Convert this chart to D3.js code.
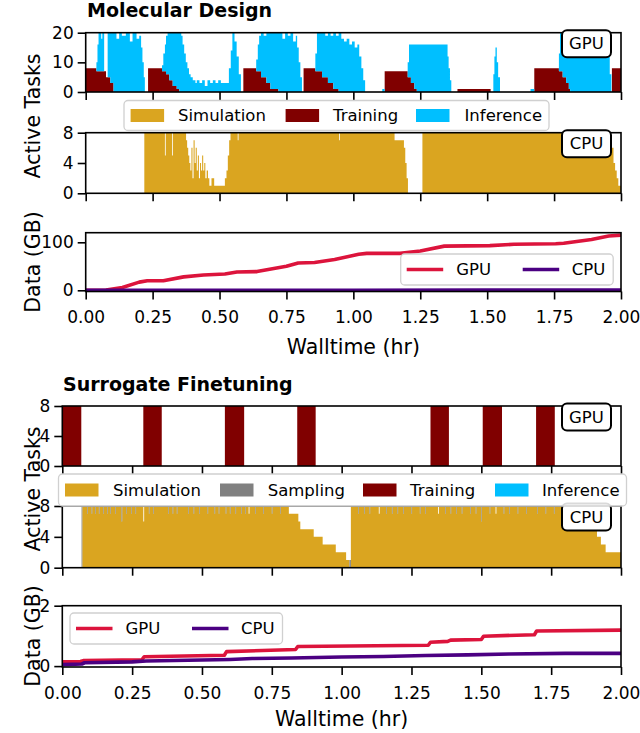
<!DOCTYPE html>
<html><head><meta charset="utf-8">
<script src="https://cdn.jsdelivr.net/npm/d3@7"></script>
<style>
body{margin:0;background:#fff}
svg{display:block;font-family:"DejaVu Sans",sans-serif}
</style>
</head><body><svg id="c" width="640" height="733"></svg>
<script>
// ---------------- DATA ----------------
const xTicks = [0, 0.25, 0.5, 0.75, 1.0, 1.25, 1.5, 1.75, 2.0];
const gpuTicksMol = [0, 10, 20];
const cpuTicks = [0, 4, 8];
const gpuTicksSur = [0, 4, 8];
const dataTicksMol = [0, 100];
const dataTicksSur = [0, 2];

const tasksMol = ["Simulation", "Training", "Inference"];
const tasksSur = ["Simulation", "Sampling", "Training", "Inference"];
const dataSeries = ["GPU", "CPU"];

// Molecular Design - GPU (step series: [hour, active tasks])
const molTraining = [[0,8],[0.040,7],[0.076,5],[0.092,3],[0.104,0],
  [0.233,8],[0.285,7],[0.300,6],[0.312,4],[0.325,2],[0.340,1],[0.350,0],
  [0.589,8],[0.637,7],[0.655,5],[0.675,3],[0.690,1],[0.720,0],
  [0.814,8],[0.858,7],[0.883,5],[0.905,3],[0.925,1],[0.945,0],
  [1.117,7],[1.203,5],[1.215,3],[1.228,1],[1.237,0],
  [1.389,1],[1.513,0],
  [1.676,8],[1.768,7],[1.782,5],[1.795,3],[1.805,1],[1.810,0],
  [1.966,8]];
const molInference = [[0.040,3],[0.044,9],[0.048,13],[0.058,11],[0.062,13],[0.069,0],[0.082,15],[0.092,17],[0.104,20],[0.115,18],[0.125,20],[0.135,19],[0.150,20],[0.165,17],[0.175,20],[0.190,18],[0.200,19],[0.207,15],[0.212,10],[0.217,5],[0.221,0],
  [0.285,2],[0.290,6],[0.296,9],[0.300,13],[0.306,14],[0.312,16],[0.325,18],[0.340,19],[0.350,20],[0.357,19],[0.362,16],[0.368,13],[0.374,10],[0.380,8],[0.386,6],[0.392,5],[0.400,4],[0.410,3],[0.415,4],[0.425,3],[0.435,4],[0.445,2],[0.455,4],[0.465,3],[0.475,4],[0.485,3],[0.495,4],[0.505,3],[0.520,3],[0.535,8],[0.542,14],[0.548,20],[0.556,17],[0.564,12],[0.572,6],[0.580,0],
  [0.637,4],[0.643,9],[0.648,12],[0.655,15],[0.665,14],[0.675,17],[0.690,19],[0.700,20],[0.710,19],[0.720,20],[0.735,18],[0.745,20],[0.755,19],[0.765,20],[0.775,17],[0.785,19],[0.790,15],[0.796,10],[0.802,5],[0.808,0],
  [0.858,6],[0.864,13],[0.883,15],[0.895,14],[0.905,17],[0.915,16],[0.925,19],[0.935,18],[0.945,20],[0.955,18],[0.965,17],[0.975,18],[0.985,16],[0.995,17],[1.005,15],[1.015,16],[1.022,12],[1.030,8],[1.037,4],[1.044,0],
  [1.108,1],[1.117,0],
  [1.203,5],[1.208,11],[1.215,13],[1.228,15],[1.237,16],[1.352,12],[1.356,8],[1.361,4],[1.366,0],
  [1.523,6],[1.527,12],[1.531,15],[1.536,10],[1.541,5],[1.548,0],
  [1.662,1],[1.676,0],
  [1.768,6],[1.772,13],[1.782,15],[1.795,17],[1.805,19],[1.810,20],[1.830,19],[1.850,20],[1.870,18],[1.890,19],[1.910,20],[1.930,18],[1.945,17],[1.952,12],[1.958,6],[1.964,0]];
// Molecular Design - CPU
const molSimulation = [[0,0],[0.219,8],[0.296,5],[0.299,8],[0.323,5],[0.326,8],
  [0.375,7],[0.379,6],[0.383,5],[0.387,4],[0.391,3],[0.395,6],[0.399,2],[0.403,7],[0.407,4],[0.411,6],[0.415,3],[0.419,5],[0.423,2],[0.427,4],[0.431,3],[0.435,5],[0.439,3],[0.443,4],[0.447,2],[0.452,3],[0.457,2],[0.462,1],[0.470,2],[0.480,1],[0.520,2],[0.526,3],[0.531,5],[0.536,7],[0.541,8],
  [0.568,7],[0.571,8],[0.947,7],[0.950,8],
  [1.154,7],[1.189,6],[1.194,4],[1.199,2],[1.204,0],[1.258,8],
  [1.961,7],[1.966,6],[1.972,4],[1.978,3],[1.984,2],[1.990,1]];
// Molecular Design - data transferred (GB)
const molDataGPU = [[0,0],[0.076,0.5],[0.137,6],[0.200,17],[0.230,20],[0.290,20],[0.366,28],[0.440,32],[0.520,34],[0.565,38],[0.640,39],[0.750,50],[0.794,57],[0.855,58],[0.930,64],[1.020,75],[1.050,77],[1.175,77],[1.250,82],[1.340,92],[1.510,93],[1.600,96],[1.756,97],[1.786,98],[1.890,106],[1.954,113],[2.0,115]];
const molDataCPU = [[0,0],[0.5,0.1],[1.0,0.2],[1.5,0.3],[2.0,0.4]];

// Surrogate Finetuning - GPU
const surTraining = [[0,8],[0.068,0],[0.290,8],[0.356,0],[0.582,8],[0.651,0],[0.841,8],[0.907,0],[1.318,8],[1.384,0],[1.505,8],[1.574,0],[1.696,8],[1.763,0]];
const surInference = [];
// Surrogate Finetuning - CPU (simulation slots, sampling intervals [start, end, tasks])
const surSimulation = [[0,0],[0.0716,8],[0.290,6],[0.293,8],[0.667,7],[0.670,8],[0.811,7],[0.845,6],[0.852,5],[0.900,4],[0.932,3],[0.979,2],[1.016,1],[1.030,0],[1.033,8],[1.133,7],[1.136,8],[1.345,7],[1.348,8],[1.551,7],[1.554,8],[1.914,4],[1.928,3],[1.945,2]];
const surSampling = [[0.069,0.0716,8],
  [0.090,0.092,1],[0.105,0.107,1],[0.118,0.120,1],[0.131,0.133,1],[0.146,0.148,1],[0.160,0.162,1],[0.172,0.174,1],[0.190,0.192,1],[0.212,0.2145,2],[0.228,0.230,1],[0.247,0.249,1],[0.262,0.264,1],[0.310,0.312,1],[0.325,0.327,1],[0.380,0.382,1],[0.395,0.397,1],[0.410,0.412,1],[0.450,0.452,1],[0.470,0.472,1],[0.490,0.492,1],[0.520,0.522,1],[0.545,0.547,1],[0.560,0.562,1],[0.585,0.587,1],[0.600,0.602,1],[0.620,0.622,1],[0.640,0.642,1],[0.655,0.657,1],[0.690,0.692,1],[0.720,0.722,1],[0.750,0.752,1],[0.780,0.782,1],
  [1.028,1.033,1],
  [1.060,1.062,1],[1.080,1.082,1],[1.100,1.102,1],[1.160,1.162,1],[1.180,1.182,1],[1.200,1.202,1],[1.220,1.222,1],[1.250,1.252,1],[1.280,1.282,1],[1.300,1.302,1],[1.370,1.372,1],[1.390,1.392,1],[1.410,1.412,1],[1.430,1.432,1],[1.460,1.462,1],[1.480,1.482,1],[1.500,1.502,2],[1.530,1.532,1],[1.580,1.582,1],[1.600,1.602,1],[1.630,1.632,1],[1.660,1.662,1],[1.700,1.702,1],[1.730,1.732,1],[1.760,1.762,1],[1.800,1.802,1],[1.840,1.842,1],[1.870,1.872,1]];
// Surrogate Finetuning - data transferred (GB)
const surDataGPU = [[0,0.14],[0.065,0.15],[0.075,0.18],[0.285,0.21],[0.293,0.31],[0.580,0.36],[0.588,0.48],[0.835,0.55],[0.843,0.65],[1.310,0.69],[1.318,0.79],[1.380,0.82],[1.390,0.86],[1.500,0.88],[1.508,0.99],[1.690,1.04],[1.698,1.16],[2.0,1.19]];
const surDataCPU = [[0,0.05],[0.070,0.07],[0.080,0.11],[0.250,0.14],[0.300,0.17],[0.500,0.20],[0.600,0.22],[0.680,0.25],[0.820,0.27],[1.000,0.30],[1.150,0.32],[1.300,0.35],[1.450,0.37],[1.600,0.40],[1.800,0.42],[2.0,0.42]];

// ---------------- STYLE ----------------
const colors = {Simulation:"#DAA520", Sampling:"#808080", Training:"#800000", Inference:"#00BFFF", GPU:"#DC143C", CPU:"#4B0082"};
const FS_TICK = 17, FS_LEG = 16.5, FS_LABEL = 20.5, FS_TITLE = 19;

const svg = d3.select("#c");
let clipId = 0;

function stepAt(s, t){ let v = 0; for (const [tt, vv] of s){ if (tt <= t + 1e-9) v = vv; else break; } return v; }
function intervalsAt(iv, t){ let v = 0; for (const [a, b, n] of iv) if (t >= a - 1e-9 && t < b - 1e-9) v += n; return v; }

function makePanel(o){
  const x = d3.scaleLinear().domain([0, 2]).range([o.left, o.right]);
  const y = d3.scaleLinear().domain(o.yDomain).range([o.bottom, o.top]);
  const g = svg.append("g");
  const id = "clip" + (clipId++);
  svg.append("clipPath").attr("id", id).append("rect")
    .attr("x", o.left).attr("y", o.top).attr("width", o.right - o.left).attr("height", o.bottom - o.top);
  const content = g.append("g").attr("clip-path", `url(#${id})`);
  return {x, y, g, content, o};
}
function finishPanel(p, yTicks, showX){
  const o = p.o;
  const xa = d3.axisBottom(p.x).tickValues(xTicks).tickSize(8).tickPadding(11.5)
    .tickFormat(showX ? d3.format(".2f") : () => "");
  const gx = p.g.append("g").attr("transform", `translate(0,${o.bottom})`).call(xa);
  const ya = d3.axisLeft(p.y).tickValues(yTicks).tickSize(8).tickPadding(4).tickFormat(d3.format("d"));
  const gy = p.g.append("g").attr("transform", `translate(${o.left},0)`).call(ya);
  [gx, gy].forEach(a => {
    a.select(".domain").remove();
    a.selectAll("line").attr("stroke", "#000").attr("stroke-width", 1.6);
    a.selectAll("text").attr("fill", "#000").style("font-size", FS_TICK + "px").style("font-family", "DejaVu Sans");
  });
  p.g.append("rect").attr("x", o.left).attr("y", o.top).attr("width", o.right - o.left).attr("height", o.bottom - o.top)
    .attr("fill", "none").attr("stroke", "#000").attr("stroke-width", 1.6);
}
function drawStack(p, layers){
  const ts = new Set([0, 2]);
  layers.forEach(l => l.times.forEach(t => ts.add(t)));
  const times = Array.from(ts).sort((a, b) => a - b);
  const rows = times.map(t => { const r = {t}; layers.forEach(l => r[l.key] = l.at(t)); return r; });
  const stack = d3.stack().keys(layers.map(l => l.key))(rows);
  const area = d3.area().curve(d3.curveStepAfter)
    .x(d => p.x(d.data.t)).y0(d => p.y(d[0])).y1(d => p.y(d[1]));
  p.content.selectAll(null).data(stack).join("path")
    .attr("d", area).attr("fill", d => colors[d.key]).attr("stroke", "none");
}
function drawLines(p, series){
  const line = d3.line().x(d => p.x(d[0])).y(d => p.y(d[1]));
  series.forEach(([key, data]) => {
    p.content.append("path").attr("d", line(data)).attr("fill", "none")
      .attr("stroke", colors[key]).attr("stroke-width", 3.6).attr("stroke-linejoin", "round");
  });
}
function tag(p, label){
  const o = p.o;
  const w = 49, h = 27, x0 = o.right - 10 - w, y0 = o.top - 2.5;
  p.g.append("rect").attr("x", x0).attr("y", y0).attr("width", w).attr("height", h).attr("rx", 5)
    .attr("fill", "#fff").attr("stroke", "#000").attr("stroke-width", 2);
  p.g.append("text").attr("x", x0 + w / 2).attr("y", y0 + h / 2).attr("text-anchor", "middle")
    .attr("dominant-baseline", "central").style("font-size", FS_LEG + "px").text(label);
}
function boxLegend(x0, y0, w, h, items, handleX, textX){
  const g = svg.append("g");
  g.append("rect").attr("x", x0).attr("y", y0).attr("width", w).attr("height", h).attr("rx", 4)
    .attr("fill", "#fff").attr("fill-opacity", 0.85).attr("stroke", "#d0d0d0").attr("stroke-width", 1.3);
  const cy = y0 + h / 2;
  items.forEach((k, i) => {
    g.append("rect").attr("x", handleX[i]).attr("y", cy - 6.5).attr("width", 33.5).attr("height", 13).attr("fill", colors[k]);
    g.append("text").attr("x", textX[i]).attr("y", cy).attr("dominant-baseline", "central")
      .style("font-size", FS_LEG + "px").text(k);
  });
}
function lineLegend(x0, y0){
  const g = svg.append("g");
  const w = 212.5, h = 31;
  g.append("rect").attr("x", x0).attr("y", y0).attr("width", w).attr("height", h).attr("rx", 4)
    .attr("fill", "#fff").attr("fill-opacity", 0.85).attr("stroke", "#d0d0d0").attr("stroke-width", 1.3);
  const cy = y0 + h / 2;
  const offs = [[6, 42.5, 55.5], [122, 158.5, 171]];
  dataSeries.forEach((k, i) => {
    g.append("line").attr("x1", x0 + offs[i][0]).attr("x2", x0 + offs[i][1]).attr("y1", cy).attr("y2", cy)
      .attr("stroke", colors[k]).attr("stroke-width", 3.6);
    g.append("text").attr("x", x0 + offs[i][2]).attr("y", cy).attr("dominant-baseline", "central")
      .style("font-size", FS_LEG + "px").text(k);
  });
}
function vLabel(x, y, text){
  svg.append("text").attr("transform", `translate(${x},${y}) rotate(-90)`).attr("text-anchor", "middle")
    .attr("dominant-baseline", "central").style("font-size", FS_LABEL + "px").text(text);
}
function hLabel(x, y, text){
  svg.append("text").attr("x", x).attr("y", y).attr("text-anchor", "middle")
    .style("font-size", FS_LABEL + "px").text(text);
}
function title(x, y, text){
  svg.append("text").attr("x", x).attr("y", y).style("font-size", FS_TITLE + "px").style("font-weight", "bold").text(text);
}

// ---------------- MOLECULAR DESIGN ----------------
const LA = 85.7, RA = 621;
title(87, 17, "Molecular Design");
const pA1 = makePanel({left: LA, right: RA, top: 32.7, bottom: 92, yDomain: [0, 20]});
drawStack(pA1, [
  {key: "Training", at: t => stepAt(molTraining, t), times: molTraining.map(d => d[0])},
  {key: "Inference", at: t => stepAt(molInference, t), times: molInference.map(d => d[0])}
]);
finishPanel(pA1, gpuTicksMol, false);
tag(pA1, "GPU");

const pA2 = makePanel({left: LA, right: RA, top: 132.7, bottom: 193.3, yDomain: [0, 8]});
drawStack(pA2, [
  {key: "Simulation", at: t => stepAt(molSimulation, t), times: molSimulation.map(d => d[0])}
]);
finishPanel(pA2, cpuTicks, false);
tag(pA2, "CPU");
boxLegend(124, 100.5, 425, 30, tasksMol, [130.6, 285.6, 416], [178, 333, 464.5]);

const pA3 = makePanel({left: LA, right: RA, top: 232.7, bottom: 291.5, yDomain: [-2.5, 120]});
drawLines(pA3, [["GPU", molDataGPU], ["CPU", molDataCPU]]);
finishPanel(pA3, dataTicksMol, true);
lineLegend(400.7, 254);
vLabel(33, 116, "Active Tasks");
vLabel(33, 262, "Data (GB)");
hLabel((LA + RA) / 2, 354, "Walltime (hr)");

// ---------------- SURROGATE FINETUNING ----------------
const LB = 62.3, RB = 621;
title(63, 391, "Surrogate Finetuning");
const pB1 = makePanel({left: LB, right: RB, top: 406, bottom: 466, yDomain: [0, 8]});
drawStack(pB1, [
  {key: "Training", at: t => stepAt(surTraining, t), times: surTraining.map(d => d[0])},
  {key: "Inference", at: t => stepAt(surInference, t), times: surInference.map(d => d[0])}
]);
finishPanel(pB1, gpuTicksSur, false);
tag(pB1, "GPU");

const pB2 = makePanel({left: LB, right: RB, top: 506, bottom: 567.7, yDomain: [0, 8]});
const samplingTimes = [];
surSampling.forEach(([a, b]) => { samplingTimes.push(a, b); });
drawStack(pB2, [
  {key: "Simulation", at: t => Math.max(0, stepAt(surSimulation, t) - intervalsAt(surSampling, t)), times: surSimulation.map(d => d[0]).concat(samplingTimes)},
  {key: "Sampling", at: t => intervalsAt(surSampling, t), times: samplingTimes}
]);
finishPanel(pB2, cpuTicks, false);
tag(pB2, "CPU");
boxLegend(58.5, 474, 568, 32, tasksSur, [65, 220, 363, 495], [113, 267.7, 410, 542]);

const pB3 = makePanel({left: LB, right: RB, top: 605.7, bottom: 667, yDomain: [-0.03, 2]});
drawLines(pB3, [["GPU", surDataGPU], ["CPU", surDataCPU]]);
finishPanel(pB3, dataTicksSur, true);
lineLegend(70, 613);
vLabel(33, 489, "Active Tasks");
vLabel(33, 636, "Data (GB)");
hLabel((LB + RB) / 2, 726, "Walltime (hr)");
</script></body></html>
